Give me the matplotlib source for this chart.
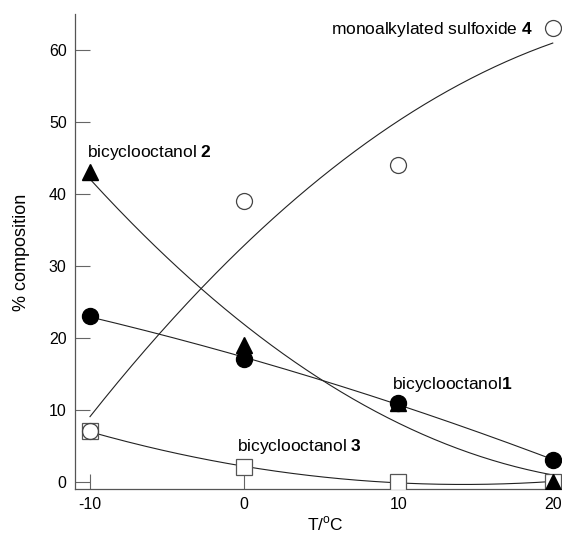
import numpy as np
import matplotlib.pyplot as plt

plt.rcParams['font.family'] = ['Liberation Sans', 'DejaVu Sans']
plt.rcParams['mathtext.fontset'] = 'custom'
plt.rcParams['mathtext.rm'] = 'Liberation Sans'
plt.rcParams['mathtext.bf'] = 'Liberation Sans:bold'
plt.rcParams['axes.unicode_minus'] = False

# temperatures and % composition
temps = [-10, 0, 10, 20]
alcohol1 = [23, 17, 11, 3]     # bicyclooctanol 1, filled circles
alcohol2 = [43, 19, 11, 0]     # bicyclooctanol 2, filled triangles
alcohol3 = [7, 2, 0, 0]        # bicyclooctanol 3, open squares
sulfoxide4 = [7, 39, 44, 63]   # monoalkylated sulfoxide 4, open circles

x_ticks = [-10, 0, 10, 20]
y_ticks = [0, 10, 20, 30, 40, 50, 60]

fig = plt.figure(figsize=(5.62, 5.35), dpi=100)
ax = fig.add_axes([0.1335, 0.086, 0.8665, 0.888])

# quadratic trend lines through each series
tt = np.linspace(-10, 20, 200)
for ys in [alcohol1, alcohol2, alcohol3, sulfoxide4]:
    coef = np.polyfit(temps, ys, 2)
    ax.plot(tt, np.polyval(coef, tt), color='#222222', lw=0.8, zorder=2)

ax.plot(temps, alcohol3, 's', ms=11, mfc='white', mec='#555555', mew=0.9, zorder=3)
ax.plot(temps, alcohol2, '^', ms=12, color='black', zorder=4)
ax.plot(temps, alcohol1, 'o', ms=11.5, color='black', zorder=5)
ax.plot(temps, sulfoxide4, 'o', ms=11.5, mfc='none', mec='#444444', mew=0.9, zorder=6)

ax.text(-10.2, 45.7, r'bicyclooctanol $\mathbf{2}$', fontsize=12.5, va='center', ha='left')
ax.text(18.7, 62.8, r'monoalkylated sulfoxide $\mathbf{4}$', fontsize=12.5, va='center', ha='right')
ax.text(9.6, 13.5, r'bicyclooctanol$\mathbf{1}$', fontsize=12.5, va='center', ha='left')
ax.text(-0.45, 4.9, r'bicyclooctanol $\mathbf{3}$', fontsize=12.5, va='center', ha='left')

ax.set_xlim(-10.97, 20.6)
ax.set_ylim(-1, 65)
ax.set_xticks(x_ticks)
ax.set_yticks(y_ticks)
ax.tick_params(direction='in', length=10.8, width=0.8, color='#666666', labelsize=11.5, pad=6)
for side in ['top', 'right']:
    ax.spines[side].set_visible(False)
for side in ['left', 'bottom']:
    ax.spines[side].set_color('#555555')
    ax.spines[side].set_linewidth(0.9)

ax.set_xlabel(r'T/$^{\mathrm{o}}$C', fontsize=12.5, va='center')
ax.xaxis.set_label_coords(0.515, -0.073)
ax.set_ylabel('% composition', fontsize=13, va='center')
ax.yaxis.set_label_coords(-0.109, 0.499)

plt.savefig('out.png', dpi=100)
